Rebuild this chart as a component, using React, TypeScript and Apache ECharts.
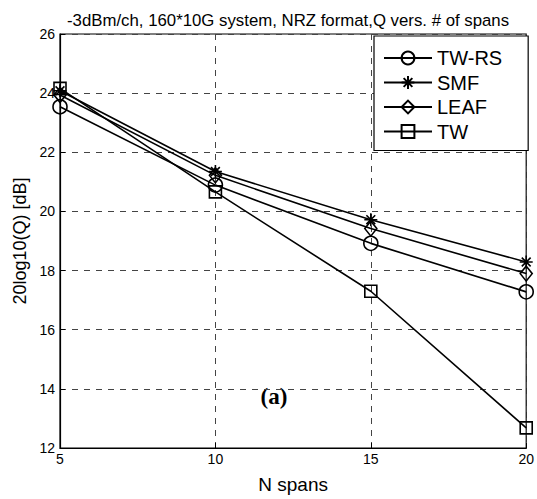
import React, { useEffect, useRef } from "react";
import * as echarts from "echarts";

const spans = [5, 10, 15, 20];
const twRs = [23.54, 20.89, 18.92, 17.28];
const smf = [24.08, 21.35, 19.72, 18.29];
const leaf = [23.94, 21.22, 19.42, 17.9];
const tw = [24.16, 20.66, 17.3, 12.68];
const seriesNames = ["TW-RS", "SMF", "LEAF", "TW"];
const titleText = "-3dBm/ch, 160*10G system, NRZ format,Q vers. # of spans";

const ASTERISK = "path://M5,0 L5,10 M0,5 L10,5 M1.6,1.6 L8.4,8.4 M1.6,8.4 L8.4,1.6";

export default function App() {
  const ref = useRef<HTMLDivElement>(null);
  useEffect(() => {
    if (!ref.current) return;
    const chart = echarts.init(ref.current, undefined, { renderer: "svg" });
    const font = "Liberation Sans";
    const mk = (name: string, data: number[], symbol: string, size: any) => ({
      name,
      type: "line",
      data: spans.map((s, i) => [s, data[i]]),
      symbol,
      symbolSize: size,
      clip: false,
      lineStyle: { color: "#000", width: 1.6 },
      itemStyle: { color: "transparent", borderColor: "#000", borderWidth: 1.6 },
      emphasis: { disabled: true },
    });
    chart.setOption({
      animation: false,
      backgroundColor: "#fff",
      title: {
        text: titleText,
        left: 62,
        top: 7,
        textStyle: { fontFamily: font, fontSize: 16.8, fontWeight: "normal", color: "#000" },
      },
      grid: { left: 60, right: 7, top: 34, bottom: 51, show: true, borderColor: "#000", borderWidth: 1.2, backgroundColor: "#fff" },
      legend: {
        data: seriesNames,
        orient: "vertical",
        left: 374,
        top: 36,
        padding: [12, 26, 9, 9],
        itemWidth: 48,
        itemHeight: 16,
        itemGap: 4.5,
        backgroundColor: "#fff",
        borderColor: "#000",
        borderWidth: 1.2,
        textStyle: { fontFamily: font, fontSize: 20, color: "#000" },
        selectedMode: false,
      },
      xAxis: {
        type: "value",
        min: 5,
        max: 20,
        interval: 5,
        name: "N spans",
        nameLocation: "middle",
        nameGap: 27,
        nameTextStyle: { fontFamily: font, fontSize: 19, color: "#000" },
        axisLine: { lineStyle: { color: "#000", width: 1.2 } },
        axisTick: { inside: true, length: 5, lineStyle: { color: "#000" } },
        axisLabel: { fontFamily: font, fontSize: 14, color: "#000", margin: 4 },
        splitLine: { show: true, lineStyle: { color: "#444", type: [6, 6], width: 1 } },
      },
      yAxis: {
        type: "value",
        min: 12,
        max: 26,
        interval: 2,
        name: "20log10(Q) [dB]",
        nameLocation: "middle",
        nameGap: 29,
        nameTextStyle: { fontFamily: font, fontSize: 18, color: "#000" },
        axisLine: { show: true, lineStyle: { color: "#000", width: 1.2 } },
        axisTick: { show: true, inside: true, length: 5, lineStyle: { color: "#000" } },
        axisLabel: { fontFamily: font, fontSize: 14, color: "#000", margin: 5 },
        splitLine: { show: true, lineStyle: { color: "#444", type: [6, 6], width: 1 } },
      },
      graphic: [
        {
          type: "text",
          x: 274,
          y: 396,
          style: {
            text: "(a)",
            font: "bold 23px 'Liberation Serif'",
            fill: "#000",
            align: "center",
            verticalAlign: "middle",
          },
        },
      ],
      series: [
        mk("TW-RS", twRs, "circle", 14),
        mk("SMF", smf, ASTERISK, 13),
        mk("LEAF", leaf, "diamond", [12, 15]),
        mk("TW", tw, "rect", 12),
      ],
    });
    return () => chart.dispose();
  }, []);
  return <div ref={ref} style={{ width: 537, height: 499, position: "absolute", left: 0, top: 0 }} />;
}
